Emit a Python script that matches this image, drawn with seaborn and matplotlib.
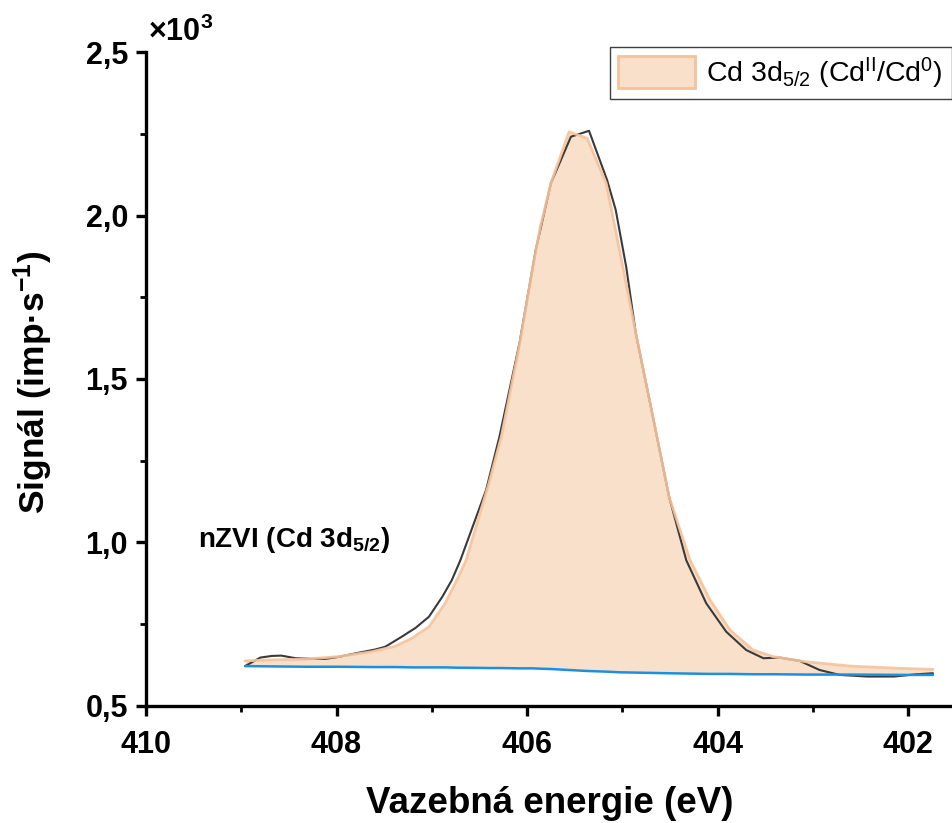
import numpy as np
import pandas as pd
import matplotlib
matplotlib.use("Agg")
import matplotlib.pyplot as plt
import seaborn as sns
from matplotlib.ticker import MultipleLocator, FuncFormatter
from matplotlib.patches import Patch

# Experimental spectrum (binding energy eV, counts)
exp_energy = [408.96, 408.80, 408.68, 408.58, 408.43, 408.26, 408.12, 407.98, 407.80, 407.59,
              407.49, 407.32, 407.17, 407.03, 406.89, 406.79, 406.70, 406.43, 406.29, 406.08,
              405.91, 405.75, 405.54, 405.35, 405.16, 405.07, 404.96, 404.86, 404.68, 404.51,
              404.33, 404.12, 403.91, 403.70, 403.52, 403.35, 403.14, 402.93, 402.72, 402.43,
              402.15, 401.91, 401.74]
exp_signal = [622, 648, 653, 654, 646, 644, 644, 650, 661, 673,
              681, 711, 739, 773, 834, 885, 946, 1161, 1324, 1610,
              1894, 2099, 2241, 2259, 2108, 2017, 1843, 1641, 1385, 1140,
              946, 814, 727, 671, 646, 648, 638, 610, 595, 590,
              590, 597, 600]

# Fitted component Cd 3d5/2 and background
fit_energy = [408.96, 408.68, 408.33, 407.98, 407.63, 407.38, 407.21, 407.03, 406.86, 406.72,
              406.64, 406.40, 406.27, 406.08, 405.94, 405.86, 405.75, 405.56, 405.37, 405.17,
              405.03, 404.86, 404.68, 404.51, 404.29, 404.08, 403.87, 403.63, 403.42, 403.07,
              402.61, 402.08, 401.74]
fit_signal = [638, 641, 643, 651, 666, 683, 707, 742, 814, 895,
              946, 1182, 1324, 1604, 1843, 1966, 2099, 2256, 2236, 2098,
              1894, 1641, 1385, 1140, 946, 824, 732, 671, 651, 635,
              622, 615, 612]
bg_signal = [622, 621, 620, 620, 619, 619, 618, 618, 618, 617,
             617, 616, 616, 615, 615, 614, 613, 610, 607, 605,
             603, 602, 601, 600, 599, 598, 598, 597, 597, 596,
             596, 595, 595]

legend_label = r"Cd 3d$_{5/2}$ (Cd$^{\mathrm{II}}$/Cd$^{0}$)"
sample_label = r"nZVI (Cd 3d$_{\mathbf{5/2}}$)"

sns.set_style("ticks")
plt.rcParams['font.family'] = ['Liberation Sans', 'DejaVu Sans']
plt.rcParams['mathtext.fontset'] = 'custom'
plt.rcParams['mathtext.rm'] = 'Liberation Sans'
plt.rcParams['mathtext.it'] = 'Liberation Sans:italic'
plt.rcParams['mathtext.bf'] = 'Liberation Sans:bold'
plt.rcParams['text.color'] = 'black'
plt.rcParams['axes.labelcolor'] = 'black'
plt.rcParams['xtick.color'] = 'black'
plt.rcParams['ytick.color'] = 'black'

fig = plt.figure(figsize=(9.53, 8.23), dpi=100)
ax = fig.add_axes([0.1532, 0.1422, 0.8468, 0.7946])

exp_df = pd.DataFrame({"E": exp_energy, "S": exp_signal})
fit_df = pd.DataFrame({"E": fit_energy, "S": fit_signal, "B": bg_signal})

fill_face = "#F9E0CA"
fit_edge = "#F6C29B"

ax.fill_between(fit_df["E"], fit_df["B"], fit_df["S"], color=fill_face, lw=0, zorder=1)
sns.lineplot(data=exp_df, x="E", y="S", ax=ax, color="#3a3a3a", lw=1.5, sort=False, zorder=2)
sns.lineplot(data=fit_df, x="E", y="S", ax=ax, color=fit_edge, lw=2.0, alpha=0.9, sort=False, zorder=3)
sns.lineplot(data=fit_df, x="E", y="B", ax=ax, color="#1B8FE4", lw=1.8, sort=False, zorder=4)

ax.set_xlim(410, 401.53)
ax.set_ylim(500, 2500)
ax.xaxis.set_major_locator(MultipleLocator(2))
ax.xaxis.set_minor_locator(MultipleLocator(1))
ax.yaxis.set_major_locator(MultipleLocator(500))
ax.yaxis.set_minor_locator(MultipleLocator(250))
ax.yaxis.set_major_formatter(FuncFormatter(lambda v, p: f"{v/1000:.1f}".replace(".", ",")))
ax.xaxis.set_major_formatter(FuncFormatter(lambda v, p: f"{v:.0f}"))

for s in ["top", "right"]:
    ax.spines[s].set_visible(False)
for s in ["left", "bottom"]:
    ax.spines[s].set_linewidth(2.4)
    ax.spines[s].set_color("black")

ax.tick_params(axis="both", which="major", direction="out", length=7, width=2.4,
               labelsize=22, colors="black", labelcolor="black")
ax.tick_params(axis="x", which="major", pad=10)
ax.tick_params(axis="y", which="major", pad=6)
ax.tick_params(axis="both", which="minor", direction="out", length=4, width=2.0, colors="black")
for lab in ax.get_xticklabels() + ax.get_yticklabels():
    lab.set_fontweight("bold")

ax.set_xlabel("Vazebná energie (eV)", fontsize=26.5, fontweight="bold", color="black")
ax.set_ylabel(r"Signál (imp·s$^{\mathbf{-1}}$)", fontsize=25.5, fontweight="bold", color="black")
ax.xaxis.set_label_coords(0.5, -0.122)
ax.yaxis.set_label_coords(-0.113, 0.495)

fig.text(0.155, 0.961, r"$\mathbf{\times 10^{3}}$", fontsize=22, ha="left", va="center", color="black")

ax.text(409.45, 1008, sample_label, fontsize=20, fontweight="bold", ha="left", va="center", color="black")

handle = Patch(facecolor=fill_face, edgecolor=fit_edge, linewidth=2)
leg = ax.legend([handle], [legend_label], loc="upper right", bbox_to_anchor=(1.0, 1.01),
                fontsize=20.5, frameon=True, fancybox=False, framealpha=1,
                handlelength=2.7, handleheight=1.35, borderpad=0.3, handletextpad=0.4,
                borderaxespad=0.05)
leg.get_frame().set_edgecolor("#404040")
leg.get_frame().set_linewidth(1.0)
for t in leg.get_texts():
    t.set_color("black")

fig.savefig("out.png", dpi=100)
